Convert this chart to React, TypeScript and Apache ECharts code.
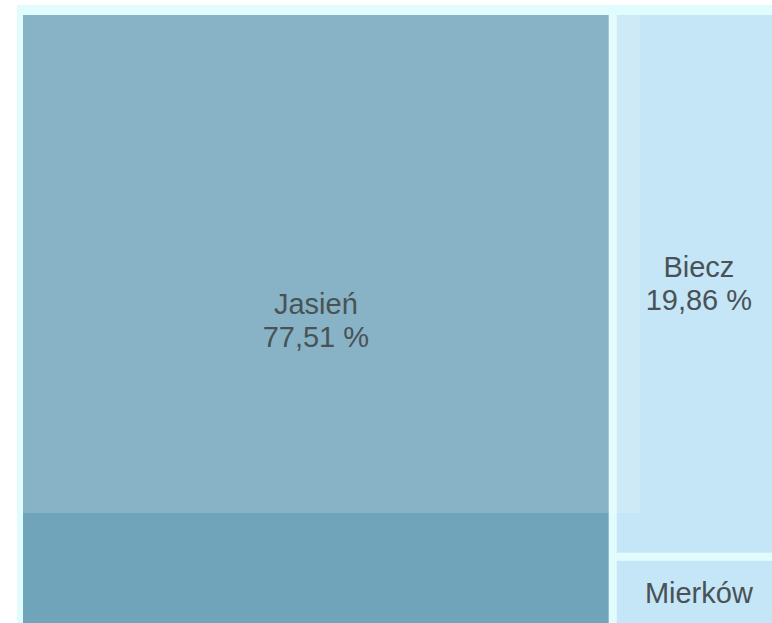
import React, { useEffect, useRef } from "react";
import * as echarts from "echarts";

const categories = ["Jasień", "Biecz", "Mierków"];
const shares = [77.51, 19.86, 2.63];
const colors = ["#70a4bb", "#c4e6f6", "#c4e6f6"];
const labelColors = ["#252f33", "#4a5256", "#4a5256"];
const showValue = [true, true, false];

export default function App() {
  const ref = useRef<HTMLDivElement>(null);
  useEffect(() => {
    if (!ref.current) return;
    const chart = echarts.init(ref.current, undefined, { renderer: "svg" });
    const data = categories.map((name, i) => ({
      name,
      value: shares[i],
      itemStyle: { color: colors[i] },
      label: showValue[i]
        ? { color: labelColors[i] }
        : { color: labelColors[i], formatter: "{b}" },
    }));
    chart.setOption({
      animation: false,
      backgroundColor: "#ffffff",
      graphic: [
        {
          type: "rect",
          z: -10,
          shape: { x: 17, y: 5, width: 760, height: 620 },
          style: { fill: "#e0fcfd" },
          silent: true,
        },
        {
          type: "rect",
          z: 100,
          shape: { x: 23, y: 15, width: 617, height: 498 },
          style: { fill: "rgba(255,255,255,0.17)" },
          silent: true,
        },
      ],
      series: [
        {
          type: "treemap",
          left: 23,
          top: 15,
          width: 758,
          height: 610,
          roam: false,
          nodeClick: false,
          silent: true,
          breadcrumb: { show: false },
          emphasis: { disabled: true },
          levels: [
            {
              itemStyle: {
                color: "#e0fcfd",
                borderWidth: 0,
                gapWidth: 8,
                borderColor: "#e0fcfd",
              },
            },
            {
              itemStyle: { borderWidth: 0, gapWidth: 0 },
            },
          ],
          label: {
            show: true,
            position: "inside",
            color: "#4a5256",
            fontSize: 29,
            lineHeight: 33,
            fontFamily: "'Liberation Sans', Arial, sans-serif",
            overflow: "none",
            formatter: (p: any) =>
              `${p.name}\n${Number(p.value).toFixed(2).replace(".", ",")} %`,
          },
          data,
        },
      ],
    });
    return () => chart.dispose();
  }, []);
  return (
    <div
      ref={ref}
      style={{ position: "absolute", left: 0, top: 0, width: 772, height: 623 }}
    />
  );
}
